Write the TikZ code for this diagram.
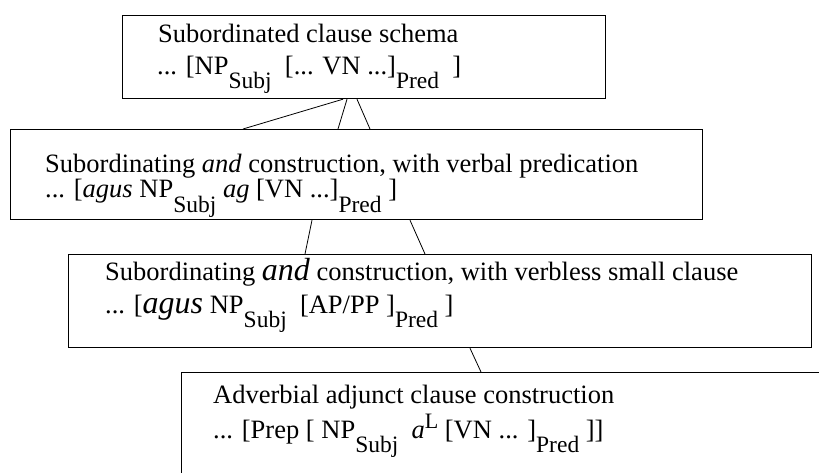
\documentclass[tikz,border=0pt]{standalone}
\usepackage{fontspec}
\setmainfont{Liberation Serif}
\newcommand{\mysub}[1]{\raisebox{-14pt}{\fontsize{23.5}{24}\selectfont #1}}
\newcommand{\mysup}[1]{\raisebox{10pt}{\fontsize{22}{24}\selectfont #1}}
\newcommand{\bigit}[1]{{\fontsize{32}{32}\selectfont\itshape #1}}
\tikzset{
  box/.style={draw, line width=1.2pt, rectangle, inner sep=0pt, anchor=north west},
  txt/.style={anchor=base west, inner sep=0pt, font=\fontsize{26.5}{30}\selectfont},
  link/.style={line width=0.8pt}
}
\begin{document}
\begin{tikzpicture}[x=1pt,y=-1pt]
\useasboundingbox (0,0) rectangle (819,473);
\clip (0,0) rectangle (819,473);
\node[box, minimum width=483pt, minimum height=83pt] (b1) at (122,15) {};
\node[box, minimum width=692pt, minimum height=90pt] (b2) at (10,129) {};
\node[box, minimum width=743pt, minimum height=93pt] (b3) at (68,254) {};
\node[box, minimum width=660pt, minimum height=130pt] (b4) at (181,372) {};

\node[txt] (t1a) at (158,43) {Subordinated clause schema};
\node[txt] (t1b) at (157,75) {... [NP\mysub{Subj}\ \ [... VN ...]\mysub{Pred}\ \ ]};

\node[txt] (t2a) at (45,173) {Subordinating \textit{and} construction, with verbal predication};
\node[txt] (t2b) at (45,198) {... [\textit{agus} NP\mysub{Subj} \textit{ag} [VN ...]\mysub{Pred} ]};

\node[txt] (t3a) at (105,280) {Subordinating \bigit{and} construction, with verbless small clause};
\node[txt] (t3b) at (105,313) {... [\bigit{agus} NP\mysub{Subj}\ \ [AP/PP ]\mysub{Pred} ]};

\node[txt] (t4a) at (213,403) {Adverbial adjunct clause construction};
\node[txt] (t4b) at (213,438) {... [Prep [ NP\mysub{Subj}\ \ \textit{a}\mysup{L} [VN ... ]\mysub{Pred} ]]};

\draw[link] ([xshift=221pt]b1.south west) -- ([xshift=233pt]b2.north west);
\draw[link] ([xshift=225pt]b1.south west) -- ([xshift=328pt]b2.north west);
\draw[link] ([xshift=235pt]b1.south west) -- ([xshift=360pt]b2.north west);
\draw[link] ([xshift=302pt]b2.south west) -- ([xshift=237pt]b3.north west);
\draw[link] ([xshift=400pt]b2.south west) -- ([xshift=357pt]b3.north west);
\draw[link] ([xshift=402pt]b3.south west) -- ([xshift=300pt]b4.north west);
\end{tikzpicture}
\end{document}
